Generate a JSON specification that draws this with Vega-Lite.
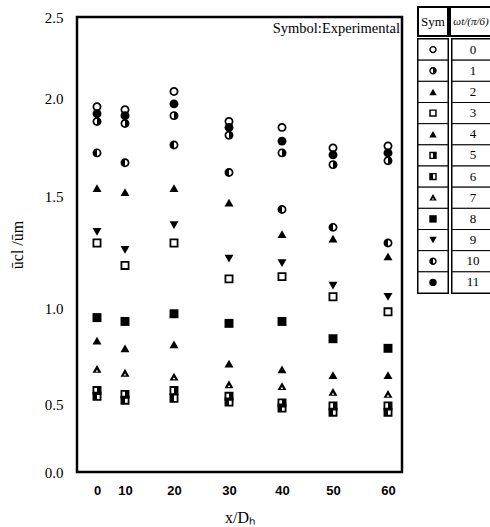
{
  "$schema": "https://vega.github.io/schema/vega-lite/v6.json",
  "background": "white",
  "padding": {"left": 8, "top": 6, "right": 2, "bottom": 0},
  "config": {
    "view": {"stroke": "black", "strokeWidth": 2.5},
    "font": "Liberation Serif",
    "concat": {"spacing": 0}
  },
  "datasets": {
    "pts": [
      {"x": 0, "v": 1.955, "s": "0"}, {"x": 0, "v": 1.92, "s": "11"}, {"x": 0, "v": 1.88, "s": "1"}, {"x": 0, "v": 1.72, "s": "10"}, {"x": 0, "v": 1.54, "s": "2"}, {"x": 0, "v": 1.34, "s": "9"}, {"x": 0, "v": 1.29, "s": "3"}, {"x": 0, "v": 0.95, "s": "8"}, {"x": 0, "v": 0.83, "s": "4"}, {"x": 0, "v": 0.68, "s": "7"}, {"x": 0, "v": 0.57, "s": "5"}, {"x": 0, "v": 0.54, "s": "6"},
      {"x": 10, "v": 1.94, "s": "0"}, {"x": 10, "v": 1.91, "s": "11"}, {"x": 10, "v": 1.87, "s": "1"}, {"x": 10, "v": 1.67, "s": "10"}, {"x": 10, "v": 1.52, "s": "2"}, {"x": 10, "v": 1.26, "s": "9"}, {"x": 10, "v": 1.19, "s": "3"}, {"x": 10, "v": 0.93, "s": "8"}, {"x": 10, "v": 0.79, "s": "4"}, {"x": 10, "v": 0.66, "s": "7"}, {"x": 10, "v": 0.55, "s": "5"}, {"x": 10, "v": 0.52, "s": "6"},
      {"x": 20, "v": 2.04, "s": "0"}, {"x": 20, "v": 1.97, "s": "11"}, {"x": 20, "v": 1.91, "s": "1"}, {"x": 20, "v": 1.76, "s": "10"}, {"x": 20, "v": 1.54, "s": "2"}, {"x": 20, "v": 1.37, "s": "9"}, {"x": 20, "v": 1.29, "s": "3"}, {"x": 20, "v": 0.97, "s": "8"}, {"x": 20, "v": 0.81, "s": "4"}, {"x": 20, "v": 0.64, "s": "7"}, {"x": 20, "v": 0.57, "s": "5"}, {"x": 20, "v": 0.53, "s": "6"},
      {"x": 30, "v": 1.88, "s": "0"}, {"x": 30, "v": 1.85, "s": "11"}, {"x": 30, "v": 1.81, "s": "1"}, {"x": 30, "v": 1.62, "s": "10"}, {"x": 30, "v": 1.47, "s": "2"}, {"x": 30, "v": 1.22, "s": "9"}, {"x": 30, "v": 1.13, "s": "3"}, {"x": 30, "v": 0.92, "s": "8"}, {"x": 30, "v": 0.71, "s": "4"}, {"x": 30, "v": 0.60, "s": "7"}, {"x": 30, "v": 0.54, "s": "5"}, {"x": 30, "v": 0.51, "s": "6"},
      {"x": 40, "v": 1.85, "s": "0"}, {"x": 40, "v": 1.78, "s": "11"}, {"x": 40, "v": 1.72, "s": "1"}, {"x": 40, "v": 1.44, "s": "10"}, {"x": 40, "v": 1.33, "s": "2"}, {"x": 40, "v": 1.20, "s": "9"}, {"x": 40, "v": 1.14, "s": "3"}, {"x": 40, "v": 0.93, "s": "8"}, {"x": 40, "v": 0.68, "s": "4"}, {"x": 40, "v": 0.59, "s": "7"}, {"x": 40, "v": 0.505, "s": "5"}, {"x": 40, "v": 0.47, "s": "6"},
      {"x": 50, "v": 1.745, "s": "0"}, {"x": 50, "v": 1.71, "s": "11"}, {"x": 50, "v": 1.66, "s": "1"}, {"x": 50, "v": 1.36, "s": "10"}, {"x": 50, "v": 1.31, "s": "2"}, {"x": 50, "v": 1.10, "s": "9"}, {"x": 50, "v": 1.05, "s": "3"}, {"x": 50, "v": 0.84, "s": "8"}, {"x": 50, "v": 0.65, "s": "4"}, {"x": 50, "v": 0.56, "s": "7"}, {"x": 50, "v": 0.485, "s": "5"}, {"x": 50, "v": 0.44, "s": "6"},
      {"x": 60, "v": 1.755, "s": "0"}, {"x": 60, "v": 1.72, "s": "11"}, {"x": 60, "v": 1.68, "s": "1"}, {"x": 60, "v": 1.29, "s": "10"}, {"x": 60, "v": 1.23, "s": "2"}, {"x": 60, "v": 1.05, "s": "9"}, {"x": 60, "v": 0.98, "s": "3"}, {"x": 60, "v": 0.79, "s": "8"}, {"x": 60, "v": 0.65, "s": "4"}, {"x": 60, "v": 0.55, "s": "7"}, {"x": 60, "v": 0.485, "s": "5"}, {"x": 60, "v": 0.44, "s": "6"}
    ],
    "yt": [{"v": 0.5}, {"v": 1.0}, {"v": 1.5}, {"v": 2.0}],
    "xt": [{"x": 0}, {"x": 10}, {"x": 20}, {"x": 30}, {"x": 40}, {"x": 50}, {"x": 60}],
    "leg": [
      {"s": "0"}, {"s": "1"}, {"s": "2"}, {"s": "3"}, {"s": "4"}, {"s": "5"}, {"s": "6"}, {"s": "7"}, {"s": "8"}, {"s": "9"}, {"s": "10"}, {"s": "11"}
    ]
  },
  "spacing": 12,
  "hconcat": [
    {
      "spacing": 0,
      "vconcat": [
        {
          "width": 10, "height": 1,
          "view": {"stroke": null},
          "data": {"values": []},
          "mark": "point",
          "encoding": {}
        },
        {
          "width": 325,
          "height": 455,
          "title": {"text": "Symbol:Experimental", "anchor": "end", "frame": "group", "offset": -26, "dx": -2, "font": "Liberation Serif", "fontSize": 14.5, "fontWeight": "normal", "color": "black"},
          "encoding": {
            "x": {
              "field": "x", "type": "quantitative",
              "scale": {"domain": [-7, 0, 10, 20, 30, 40, 50, 60, 62.5], "range": [0, 20, 48, 97, 152, 205, 256, 311, 325], "nice": false, "zero": false},
              "axis": {"values": [0, 10, 20, 30, 40, 50, 60], "title": "x/Dₕ", "domain": false, "ticks": false, "grid": false, "labelFont": "Liberation Sans", "labelFontWeight": "bold", "labelFontSize": 13, "labelColor": "black", "labelPadding": 12, "titleFont": "Liberation Serif", "titleFontSize": 16, "titleFontWeight": "normal", "titleColor": "black", "titlePadding": 12}
            },
            "y": {
              "field": "v", "type": "quantitative",
              "scale": {"domain": [0, 0.5, 1, 1.5, 2, 2.5], "range": [455, 387, 291, 179, 81, 0], "nice": false, "zero": false},
              "axis": {"values": [0, 0.5, 1, 1.5, 2, 2.5], "format": ".1f", "title": "ūcl /ūm", "domain": false, "ticks": false, "grid": false, "labelFont": "Liberation Serif", "labelFontSize": 15, "labelColor": "black", "labelPadding": 14, "titleFont": "Liberation Serif", "titleFontSize": 16, "titleFontWeight": "normal", "titleColor": "black", "titlePadding": 19}
            }
          },
          "layer": [
            {
              "data": {"name": "yt"},
              "mark": {"type": "tick", "orient": "horizontal", "color": "black", "opacity": 1, "size": 8, "thickness": 1.3, "xOffset": 4},
              "encoding": {"x": {"datum": -7, "type": "quantitative"}}
            },
            {
              "data": {"name": "xt"},
              "mark": {"type": "tick", "orient": "vertical", "color": "black", "opacity": 1, "size": 6, "thickness": 1.3, "yOffset": -3},
              "encoding": {"y": {"datum": 0, "type": "quantitative"}}
            },
            {
              "data": {"name": "pts"},
              "mark": {"type": "point", "filled": true, "color": "black", "opacity": 1, "size": 80},
              "encoding": {
                "shape": {
                  "field": "s", "type": "nominal",
                  "scale": {
                    "domain": ["0", "1", "2", "3", "4", "5", "6", "7", "8", "9", "10", "11"],
                    "range": [
                      "M0,-1A1,1,0,1,1,0,1A1,1,0,1,1,0,-1ZM0,-0.62A0.62,0.62,0,1,0,0,0.62A0.62,0.62,0,1,0,0,-0.62Z",
                      "M0,-1A1,1,0,1,1,0,1A1,1,0,1,1,0,-1ZM0,-0.62A0.62,0.62,0,1,0,0,0.62A0.62,0.62,0,1,0,0,-0.62ZM0,-0.62A0.62,0.62,0,0,1,0,0.62Z",
                      "triangle-up",
                      "M-1,-1H1V1H-1ZM-0.6,-0.6V0.6H0.6V-0.6Z",
                      "triangle-up",
                      "M-1,-1H1V1H-1ZM-0.6,-0.6V0.6H0.6V-0.6ZM0,-0.6H0.6V0.6H0Z",
                      "M-1,-1H1V1H-1ZM-0.6,-0.6V0.6H0.6V-0.6ZM-0.6,-0.6H0V0.6H-0.6Z",
                      "M0,-1L1,0.75L-1,0.75ZM0,0.05L-0.3,0.5L0.3,0.5Z",
                      "square",
                      "triangle-down",
                      "M0,-1A1,1,0,1,1,0,1A1,1,0,1,1,0,-1ZM0,-0.62A0.62,0.62,0,1,0,0,0.62A0.62,0.62,0,1,0,0,-0.62ZM0,-0.62A0.62,0.62,0,0,0,0,0.62Z",
                      "circle"
                    ]
                  },
                  "legend": null
                }
              }
            }
          ]
        }
      ]
    },
    {
      "spacing": 0,
      "vconcat": [
        {
          "spacing": 0,
          "hconcat": [
            {
              "width": 30, "height": 29,
              "view": {"stroke": "black", "strokeWidth": 2},
              "data": {"values": [{"t": "Sym"}]},
              "mark": {"type": "text", "font": "Liberation Serif", "fontSize": 13, "fill": "black"},
              "encoding": {"text": {"field": "t"}}
            },
            {
              "width": 42, "height": 29,
              "view": {"stroke": "black", "strokeWidth": 2},
              "data": {"values": [{"t": "ωt/(π/6)"}]},
              "mark": {"type": "text", "font": "Liberation Serif", "fontSize": 11, "fontStyle": "italic", "fill": "black"},
              "encoding": {"text": {"field": "t"}}
            }
          ]
        },
        {
          "spacing": 0,
          "hconcat": [
            {
              "width": 30, "height": 254,
              "view": {"stroke": "black", "strokeWidth": 2},
              "data": {"name": "leg"},
              "layer": [
                {
                  "mark": {"type": "rect", "fill": "white", "stroke": "black", "strokeWidth": 1},
                  "encoding": {"y": {"field": "s", "type": "ordinal", "axis": null, "scale": {"domain": ["0", "1", "2", "3", "4", "5", "6", "7", "8", "9", "10", "11"], "paddingInner": 0, "paddingOuter": 0}}}
                },
                {
                  "mark": {"type": "point", "filled": true, "color": "black", "opacity": 1, "size": 55},
                  "encoding": {
                    "y": {"field": "s", "type": "ordinal", "axis": null, "scale": {"domain": ["0", "1", "2", "3", "4", "5", "6", "7", "8", "9", "10", "11"], "paddingInner": 0, "paddingOuter": 0}},
                    "shape": {
                      "field": "s", "type": "nominal", "legend": null,
                      "scale": {
                        "domain": ["0", "1", "2", "3", "4", "5", "6", "7", "8", "9", "10", "11"],
                        "range": [
                          "M0,-1A1,1,0,1,1,0,1A1,1,0,1,1,0,-1ZM0,-0.62A0.62,0.62,0,1,0,0,0.62A0.62,0.62,0,1,0,0,-0.62Z",
                          "M0,-1A1,1,0,1,1,0,1A1,1,0,1,1,0,-1ZM0,-0.62A0.62,0.62,0,1,0,0,0.62A0.62,0.62,0,1,0,0,-0.62ZM0,-0.62A0.62,0.62,0,0,1,0,0.62Z",
                          "triangle-up",
                          "M-1,-1H1V1H-1ZM-0.6,-0.6V0.6H0.6V-0.6Z",
                          "triangle-up",
                          "M-1,-1H1V1H-1ZM-0.6,-0.6V0.6H0.6V-0.6ZM0,-0.6H0.6V0.6H0Z",
                          "M-1,-1H1V1H-1ZM-0.6,-0.6V0.6H0.6V-0.6ZM-0.6,-0.6H0V0.6H-0.6Z",
                          "M0,-1L1,0.75L-1,0.75ZM0,0.05L-0.3,0.5L0.3,0.5Z",
                          "square",
                          "triangle-down",
                          "M0,-1A1,1,0,1,1,0,1A1,1,0,1,1,0,-1ZM0,-0.62A0.62,0.62,0,1,0,0,0.62A0.62,0.62,0,1,0,0,-0.62ZM0,-0.62A0.62,0.62,0,0,0,0,0.62Z",
                          "circle"
                        ]
                      }
                    }
                  }
                }
              ]
            },
            {
              "width": 42, "height": 254,
              "view": {"stroke": "black", "strokeWidth": 2},
              "data": {"name": "leg"},
              "layer": [
                {
                  "mark": {"type": "rect", "fill": "white", "stroke": "black", "strokeWidth": 1},
                  "encoding": {"y": {"field": "s", "type": "ordinal", "axis": null, "scale": {"domain": ["0", "1", "2", "3", "4", "5", "6", "7", "8", "9", "10", "11"], "paddingInner": 0, "paddingOuter": 0}}}
                },
                {
                  "mark": {"type": "text", "font": "Liberation Serif", "fontSize": 13, "fill": "black"},
                  "encoding": {
                    "y": {"field": "s", "type": "ordinal", "axis": null, "scale": {"domain": ["0", "1", "2", "3", "4", "5", "6", "7", "8", "9", "10", "11"], "paddingInner": 0, "paddingOuter": 0}},
                    "text": {"field": "s"}
                  }
                }
              ]
            }
          ]
        }
      ]
    }
  ]
}
